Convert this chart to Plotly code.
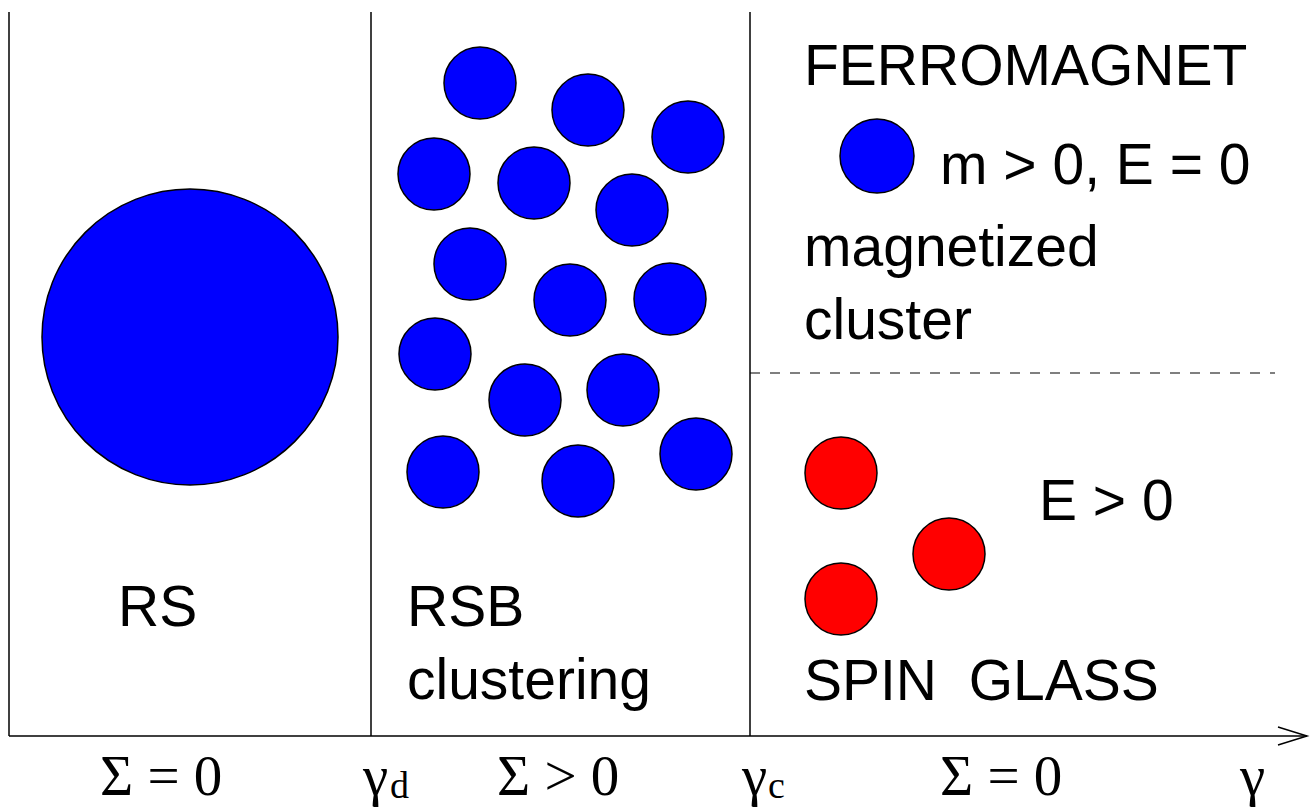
import plotly.graph_objects as go

# ---- data (pixel-space schematic coordinates) ----
boundary_x = [9, 371, 750]          # phase boundaries (axis origin, gamma_d, gamma_c)
boundary_top = 12
axis_y = 736
axis_end = 1307

# RS phase: one big cluster
rs_cx = [190]
rs_cy = [337]
rs_r = [148]

# RSB clustering phase: many small clusters
rsb_cx = [480, 588, 688, 434, 534, 632, 470, 570, 670, 435, 525, 623, 443, 578, 696]
rsb_cy = [83, 110, 137, 174, 183, 210, 264, 300, 299, 354, 400, 390, 472, 481, 454]
rsb_r = 36

# Ferromagnet cluster
fm_cx = [877]
fm_cy = [156]
fm_r = 37

# Spin glass clusters
sg_cx = [841, 949, 841]
sg_cy = [473, 554, 599]
sg_r = 36

# dashed separator
sep_y = 373
sep_x = [750, 1275]

# labels: (text, left x, baseline y)
sans_labels = [
    ("FERROMAGNET", 806, 84),
    ("m > 0, E = 0", 942, 183),
    ("magnetized", 806, 265),
    ("cluster", 806, 338),
    ("E > 0", 1041, 519),
    ("SPIN\u00a0 GLASS", 806, 699),
    ("RS", 120, 625),
    ("RSB", 409, 625),
    ("clustering", 409, 698),
]
serif_labels = [
    ("\u03a3 = 0", 100, 794),
    ("\u03b3", 362, 794),
    ("\u03a3 > 0", 497, 794),
    ("\u03b3", 741, 794),
    ("\u03a3 = 0", 940, 794),
    ("\u03b3", 1239, 794),
]
sub_labels = [
    ("d", 390, 797),
    ("c", 768, 797),
]

W, H = 1312, 807
FS = 57
FS_SERIF = 57
FS_SUB = 38

shapes = []
line_style = dict(color="black", width=1.5)
for bx in boundary_x:
    shapes.append(dict(type="line", xref="x", yref="y", x0=bx, x1=bx,
                       y0=boundary_top, y1=axis_y, line=line_style))
shapes.append(dict(type="line", xref="x", yref="y", x0=boundary_x[0], x1=axis_end,
                   y0=axis_y, y1=axis_y, line=line_style))
shapes.append(dict(type="path", xref="x", yref="y",
                   path=f"M {axis_end-29},{axis_y-9} L {axis_end},{axis_y} L {axis_end-29},{axis_y+9}",
                   line=line_style))
shapes.append(dict(type="line", xref="x", yref="y", x0=sep_x[0], x1=sep_x[1],
                   y0=sep_y, y1=sep_y, line=dict(color="black", width=1.2, dash="10px,10px")))


def add_circles(cxs, cys, r, color):
    rs = r if isinstance(r, list) else [r] * len(cxs)
    for cx, cy, rr in zip(cxs, cys, rs):
        shapes.append(dict(type="circle", xref="x", yref="y",
                           x0=cx - rr, x1=cx + rr, y0=cy - rr, y1=cy + rr,
                           fillcolor=color, line=dict(color="black", width=1.5)))


add_circles(rs_cx, rs_cy, rs_r, "#0000ff")
add_circles(rsb_cx, rsb_cy, rsb_r, "#0000ff")
add_circles(fm_cx, fm_cy, fm_r, "#0000ff")
add_circles(sg_cx, sg_cy, sg_r, "#ff0000")

annotations = []
for txt, lx, base in sans_labels:
    annotations.append(dict(text=txt, x=lx - 4, y=base - 0.905 * FS - 1, xref="x", yref="y",
                            xanchor="left", yanchor="top", showarrow=False,
                            font=dict(family="Liberation Sans, Arial", size=FS, color="black")))
for txt, lx, base in serif_labels:
    annotations.append(dict(text=txt, x=lx - 2, y=base - 0.891 * FS_SERIF - 1, xref="x", yref="y",
                            xanchor="left", yanchor="top", showarrow=False,
                            font=dict(family="Liberation Serif, Times New Roman", size=FS_SERIF,
                                      color="black")))
for txt, lx, base in sub_labels:
    annotations.append(dict(text=txt, x=lx - 2, y=base - 0.891 * FS_SUB - 1, xref="x", yref="y",
                            xanchor="left", yanchor="top", showarrow=False,
                            font=dict(family="Liberation Serif, Times New Roman", size=FS_SUB,
                                      color="black")))

fig = go.Figure()
fig.add_trace(go.Scatter(x=[0, W], y=[0, H], mode="markers",
                         marker=dict(opacity=0), hoverinfo="skip", showlegend=False))
fig.update_layout(
    width=W, height=H,
    margin=dict(l=0, r=0, t=0, b=0),
    paper_bgcolor="white", plot_bgcolor="white",
    xaxis=dict(range=[0, W], visible=False, showgrid=False, zeroline=False, fixedrange=True),
    yaxis=dict(range=[H, 0], visible=False, showgrid=False, zeroline=False, fixedrange=True),
    shapes=shapes, annotations=annotations, showlegend=False,
)
fig.write_html("out.html", config={"displayModeBar": False},
               post_script="document.body.style.margin='0';document.body.style.overflow='hidden';")
